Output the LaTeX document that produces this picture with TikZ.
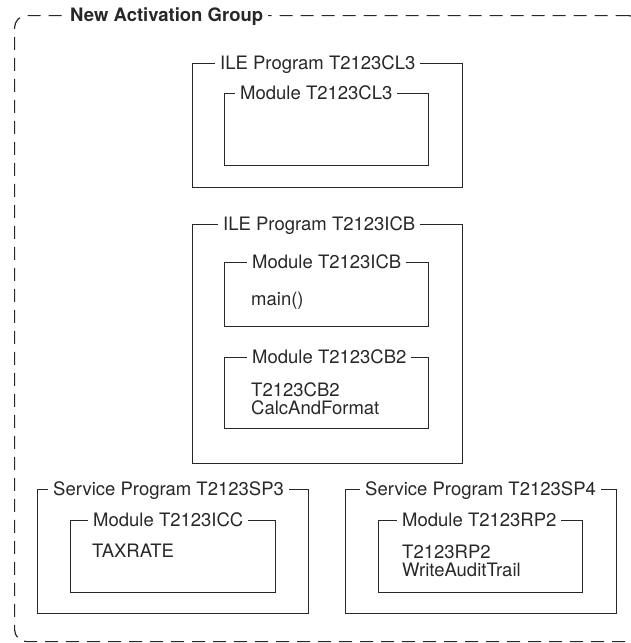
\documentclass[tikz,border=0pt]{standalone}
\usepackage{fontspec}
\setmainfont{TeX Gyre Heros}
\usepackage{tikz}
\usetikzlibrary{positioning}
\definecolor{inkGray}{RGB}{40,40,40}

\begin{document}
\begin{tikzpicture}[
  x=1pt,y=-1pt,
  grp/.style={draw=inkGray,line width=1.2pt,dash pattern=on 13pt off 8pt,rounded corners=12pt,anchor=north west,inner sep=0pt},
  box/.style={draw=inkGray,line width=1.2pt,anchor=north west,inner sep=0pt},
  ttl/.style={fill=white,text=inkGray,anchor=base west,inner xsep=5pt,inner ysep=1pt,font=\fontsize{18.5}{19}\selectfont},
  body/.style={text=inkGray,anchor=base west,align=left,inner sep=0pt,font=\fontsize{18.5}{17.5}\selectfont}
]
  \useasboundingbox (0,0) rectangle (631,643);
  \clip (0,0) rectangle (631,643);
  \node[grp,minimum width=626pt,minimum height=626pt] (grp) at (14,15) {};
  \node[ttl,font=\fontsize{18.5}{19}\bfseries] (grpt) at (65,21) {New Activation Group};

  % ILE program T2123CL3
  \node[box,minimum width=270pt,minimum height=124pt] (cl3) at (192,63) {};
  \node[ttl] (cl3t) at (215,69) {ILE Program T2123CL3};
  \node[box,minimum width=204pt,minimum height=72pt] (cl3m) at (224,93) {};
  \node[ttl] (cl3mt) at (235,99) {Module T2123CL3};

  % ILE program T2123ICB
  \node[box,minimum width=270pt,minimum height=239pt] (icb) at (192,224) {};
  \node[ttl] (icbt) at (218,230) {ILE Program T2123ICB};
  \node[box,minimum width=204pt,minimum height=64pt] (icbm) at (224,262) {};
  \node[ttl] (icbmt) at (247,268) {Module T2123ICB};
  \node[body] (mainfn) at (251,305) {main()};
  \node[box,minimum width=204pt,minimum height=71pt] (cb2m) at (224,357) {};
  \node[ttl] (cb2mt) at (247,363) {Module T2123CB2};
  \node[body] (cb2fn) at (251,414) {T2123CB2\\CalcAndFormat};

  % service programs
  \node[box,minimum width=271pt,minimum height=124pt] (sp3) at (37,489) {};
  \node[ttl] (sp3t) at (48,495) {Service Program T2123SP3};
  \node[box,minimum width=205pt,minimum height=72pt] (iccm) at (70,520) {};
  \node[ttl] (iccmt) at (88,526) {Module T2123ICC};
  \node[body] (taxrate) at (92,557) {TAXRATE};

  \node[box,minimum width=271pt,minimum height=124pt] (sp4) at (345,489) {};
  \node[ttl] (sp4t) at (360,495) {Service Program T2123SP4};
  \node[box,minimum width=204pt,minimum height=72pt] (rp2m) at (378,520) {};
  \node[ttl] (rp2mt) at (397,526) {Module T2123RP2};
  \node[body] (rp2fn) at (402,576) {T2123RP2\\WriteAuditTrail};
\end{tikzpicture}
\end{document}
